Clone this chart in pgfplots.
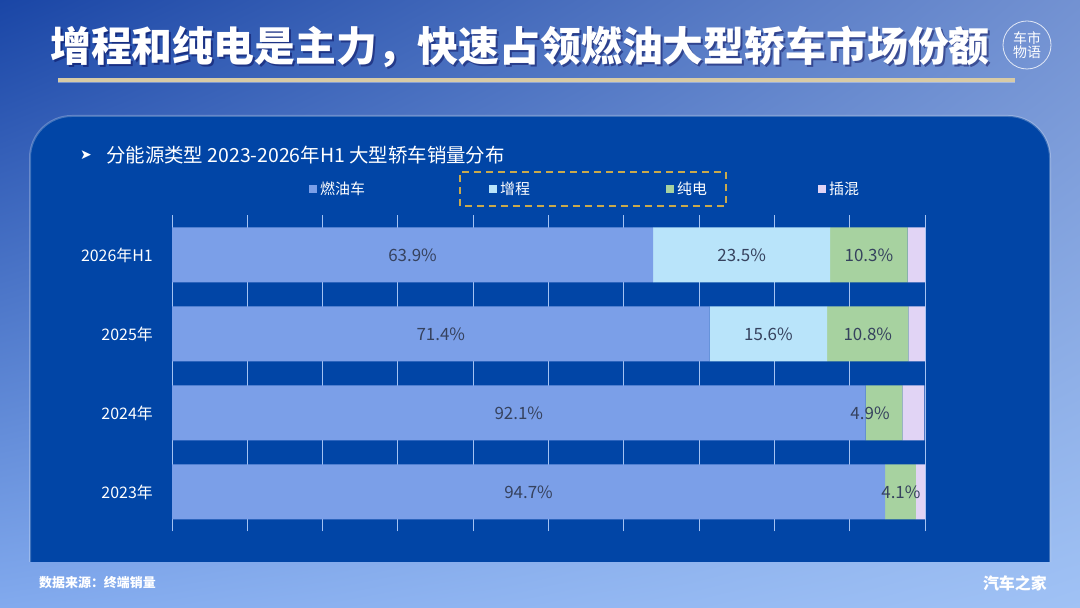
\documentclass[border=0pt]{standalone}
\usepackage{fontspec}
\setmainfont{Noto Sans CJK SC}
\newfontfamily\symfont{DejaVu Sans}
\usepackage{pgfplots}
\pgfplotsset{compat=1.18}
\usetikzlibrary{shadings}
\definecolor{bgA}{HTML}{1A46A6}
\definecolor{bgB}{HTML}{7392D2}
\definecolor{bgC}{HTML}{82AAEE}
\definecolor{bgD}{HTML}{A0C2F5}
\definecolor{panel}{HTML}{0145A6}
\definecolor{cICE}{HTML}{7B9FE8}
\definecolor{cEREV}{HTML}{B9E4FA}
\definecolor{cBEV}{HTML}{A7D2A0}
\definecolor{cPHEV}{HTML}{E1D4F5}
\definecolor{gridc}{HTML}{A4C2F2}
\definecolor{lbl}{HTML}{36425E}
\definecolor{gold}{HTML}{D8CBA6}
\definecolor{dashgold}{HTML}{C9A94C}
\tikzset{vlab/.style={text=lbl, font=\fontsize{17}{18}\selectfont, inner sep=0}}
\begin{document}
\begin{tikzpicture}[x=1bp,y=1bp]
\path[use as bounding box] (0,0) rectangle (1080,608);
\shade[upper left=bgA, upper right=bgB, lower left=bgC, lower right=bgD] (0,0) rectangle (1080,608);
% panel
\fill[panel] (30,46) [rounded corners=42] -- (30,492) -- (1050,492) [sharp corners] -- (1050,46) -- cycle;
\draw[white, opacity=0.25, line width=2bp] (30,46) [rounded corners=42] -- (30,492) -- (1050,492) [sharp corners] -- (1050,46);
% title
\node[text=black!70!blue, opacity=0.45, font=\fontsize{41}{44}\selectfont\bfseries] at (522,559) {增程和纯电是主力，快速占领燃油大型轿车市场份额};
\node[text=white, font=\fontsize{41}{44}\selectfont\bfseries] at (520,561) {增程和纯电是主力，快速占领燃油大型轿车市场份额};
\fill[gold] (58,526) rectangle (1015,530);
\fill[white, opacity=0.35] (58,525) rectangle (1015,526);
% logo
\draw[white, opacity=0.8, line width=0.8bp] (1027,563) circle (24);
\node[text=white, align=center, font=\fontsize{14}{14}\selectfont, inner sep=0] at (1027,563) {车市\\物语};
% subtitle
\node[anchor=west, text=white, font=\fontsize{14}{16}\selectfont\symfont, inner sep=0] at (80,453) {➤};
\node[anchor=west, text=white, font=\fontsize{19.5}{21}\selectfont, inner sep=0] at (106,453) {分能源类型 2023-2026年H1 大型轿车销量分布};
% legend
\draw[dashgold, line width=1.5bp, dash pattern=on 7bp off 5bp] (460,402) rectangle (726,436);
\fill[cICE] (309,415) rectangle (317,423);
\node[anchor=west, text=white, font=\fontsize{15}{16}\selectfont, inner sep=0] at (320,419) {燃油车};
\fill[cEREV] (489,415) rectangle (497,423);
\node[anchor=west, text=white, font=\fontsize{15}{16}\selectfont, inner sep=0] at (500,419) {增程};
\fill[cBEV] (666,415) rectangle (674,423);
\node[anchor=west, text=white, font=\fontsize{15}{16}\selectfont, inner sep=0] at (677,419) {纯电};
\fill[cPHEV] (818,415) rectangle (826,423);
\node[anchor=west, text=white, font=\fontsize{15}{16}\selectfont, inner sep=0] at (829,419) {插混};
% footer
\node[anchor=west, text=white, font=\fontsize{13}{14}\selectfont\bfseries, inner sep=0] at (39,25) {数据来源：终端销量};
\node[anchor=east, text=white, font=\fontsize{16}{18}\selectfont\bfseries, inner sep=0] at (1047,25) {汽车之家};
% chart
\begin{axis}[
  at={(172bp,76.5bp)}, anchor=south west,
  scale only axis, width=753bp, height=316bp,
  xbar stacked, bar width=55bp,
  xmin=0, xmax=100, ymin=-0.5, ymax=3.5,
  xtick={0,10,...,100}, xticklabels={},
  xmajorgrids, grid style={gridc, line width=1bp},
  ytick={0,1,2,3},
  yticklabels={2023年,2024年,2025年,2026年H1},
  yticklabel style={text=white, font=\fontsize{16}{18}\selectfont, inner sep=0, xshift=-19bp},
  major tick length=0pt,
  axis line style={draw=none},
  clip=false,
]
\addplot[fill=cICE, draw=none] coordinates {(94.7,0) (92.1,1) (71.4,2) (63.9,3)};
\addplot[fill=cEREV, draw=none] coordinates {(0,0) (0,1) (15.6,2) (23.5,3)};
\addplot[fill=cBEV, draw=none] coordinates {(4.1,0) (4.9,1) (10.8,2) (10.3,3)};
\addplot[fill=cPHEV, draw=none] coordinates {(1.2,0) (2.9,1) (2.2,2) (2.3,3)};
\coordinate (a1) at (axis cs:31.95,3);
\coordinate (a2) at (axis cs:75.65,3);
\coordinate (a3) at (axis cs:92.55,3);
\coordinate (b1) at (axis cs:35.7,2);
\coordinate (b2) at (axis cs:79.2,2);
\coordinate (b3) at (axis cs:92.4,2);
\coordinate (c1) at (axis cs:46.05,1);
\coordinate (c3) at (axis cs:92.7,1);
\coordinate (d1) at (axis cs:47.35,0);
\coordinate (d3) at (axis cs:96.8,0);
\end{axis}
\node[vlab] at (a1) {63.9\%};
\node[vlab] at (a2) {23.5\%};
\node[vlab] at (a3) {10.3\%};
\node[vlab] at (b1) {71.4\%};
\node[vlab] at (b2) {15.6\%};
\node[vlab] at (b3) {10.8\%};
\node[vlab] at (c1) {92.1\%};
\node[vlab] at (c3) {4.9\%};
\node[vlab] at (d1) {94.7\%};
\node[vlab] at (d3) {4.1\%};
\end{tikzpicture}
\end{document}
